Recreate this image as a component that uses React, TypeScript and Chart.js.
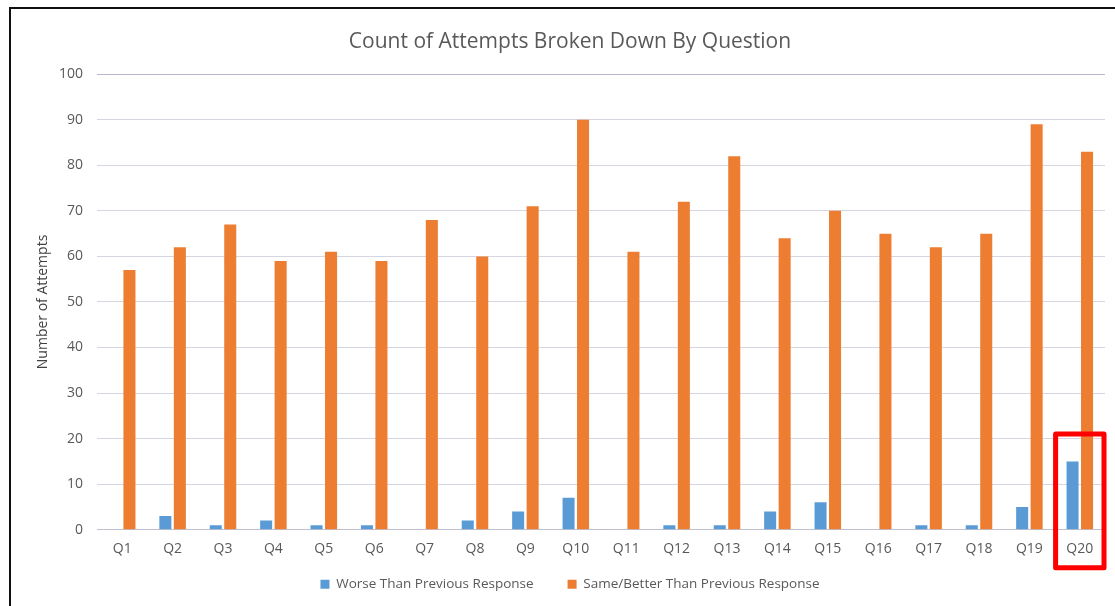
import React, { useEffect, useRef } from "react";
import { Chart, registerables, CategoryScale } from "chart.js";

class UnclippedCategoryScale extends (CategoryScale as any) {
  static id = "categoryUnclipped";
  static defaults = (CategoryScale as any).defaults;
  _computeLabelArea() {
    return undefined;
  }
}

Chart.register(...registerables, UnclippedCategoryScale as any);

const categories = ["Q1","Q2","Q3","Q4","Q5","Q6","Q7","Q8","Q9","Q10","Q11","Q12","Q13","Q14","Q15","Q16","Q17","Q18","Q19","Q20"];
const worseValues = [0,3,1,2,1,1,0,2,4,7,0,1,1,4,6,0,1,1,5,15];
const sameBetterValues = [57,62,67,59,61,59,68,60,71,90,61,72,82,64,70,65,62,65,89,83];
const yTicks = [0,10,20,30,40,50,60,70,80,90,100];
const highlightCategory = "Q20";

const FONT = "'Open Sans', 'Noto Sans', sans-serif";
const TEXT = "#595959";

const highlightPlugin = {
  id: "highlightBox",
  afterDraw(chart: any) {
    const x = chart.scales.x;
    const idx = categories.indexOf(highlightCategory);
    if (idx < 0) return;
    const cw = x.width / categories.length;
    const cx = x.getPixelForValue(idx);
    const ctx = chart.ctx;
    const left = cx - cw / 2 + 1;
    const right = cx + cw / 2 - 1;
    const top = chart.scales.y.getPixelForValue(21);
    const bottom = chart.chartArea.bottom + 38;
    ctx.save();
    ctx.strokeStyle = "#ff0000";
    ctx.lineWidth = 5;
    ctx.lineJoin = "round";
    ctx.strokeRect(left, top, right - left, bottom - top);
    ctx.restore();
  },
};

export default function App() {
  const ref = useRef<HTMLCanvasElement>(null);
  useEffect(() => {
    const chart = new Chart(ref.current as HTMLCanvasElement, {
      type: "bar",
      data: {
        labels: categories,
        datasets: [
          {
            label: "Worse Than Previous Response",
            data: worseValues,
            backgroundColor: "#5B9BD5",
            categoryPercentage: 0.575,
            barPercentage: 0.83,
          },
          {
            label: "Same/Better Than Previous Response",
            data: sameBetterValues,
            backgroundColor: "#ED7D31",
            categoryPercentage: 0.575,
            barPercentage: 0.83,
          },
        ],
      },
      options: {
        animation: false,
        responsive: false,
        layout: { padding: { left: 35, right: 10, top: 0, bottom: 5 } },
        plugins: {
          title: {
            display: true,
            text: "Count of Attempts Broken Down By Question",
            color: TEXT,
            font: { family: FONT, size: 21, weight: "normal" },
            padding: { top: 29, bottom: 20 },
          },
          legend: {
            position: "bottom",
            labels: {
              color: TEXT,
              font: { family: FONT, size: 13.5 },
              boxWidth: 9,
              boxHeight: 9,
              padding: 34,
            },
          },
          tooltip: { enabled: false },
        },
        scales: {
          x: {
            type: "categoryUnclipped" as any,
            grid: { display: false },
            border: { color: "#c0c0d0" },
            ticks: { color: TEXT, font: { family: FONT, size: 14 }, padding: 3, maxRotation: 0 },
            afterFit: (s: any) => { s.height = s.height - 17; },
          },
          y: {
            min: 0,
            max: 100,
            afterBuildTicks: (s: any) => { s.ticks = yTicks.map((v) => ({ value: v })); },
            afterFit: (s: any) => { s.width = 62; },
            grid: {
              color: (c: any) => (c.tick && (c.tick.value === 100 || c.tick.value === 0) ? "#b8b8cc" : "#d6d6e2"),
              drawTicks: false,
            },
            border: { display: false },
            ticks: { color: TEXT, font: { family: FONT, size: 14 }, padding: 14 },
            title: {
              display: true,
              text: "Number of Attempts",
              color: "#404040",
              font: { family: FONT, size: 14 },
              padding: { top: 0, bottom: 8 },
            },
          },
        },
      },
      plugins: [highlightPlugin],
    });
    return () => chart.destroy();
  }, []);

  return (
    <div style={{ position: "fixed", left: 0, top: 0, width: 1115, height: 606, background: "#fff" }}>
      <canvas ref={ref} width={1115} height={606} style={{ position: "absolute", left: 0, top: 0 }} />
      <div
        style={{
          position: "absolute",
          left: 9,
          top: 7,
          width: 1200,
          height: 700,
          borderLeft: "2px solid #111",
          borderTop: "2px solid #111",
          pointerEvents: "none",
        }}
      />
    </div>
  );
}
